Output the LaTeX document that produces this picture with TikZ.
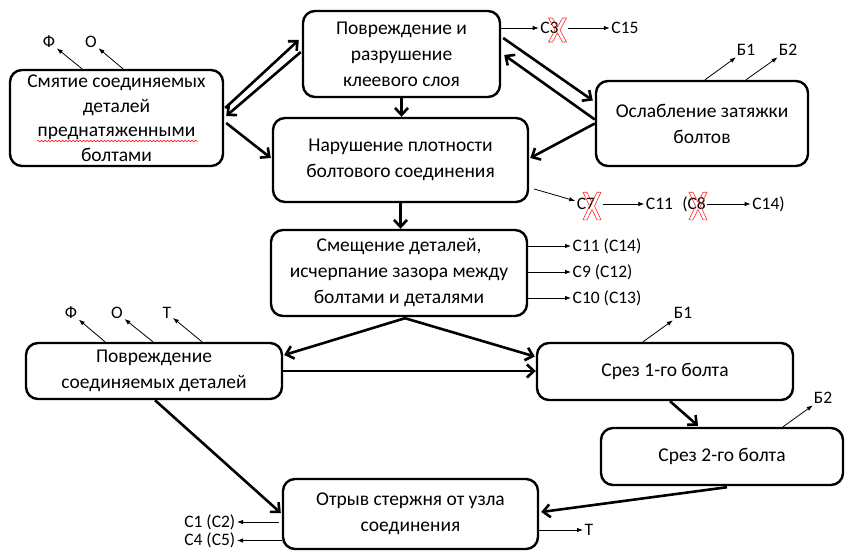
\documentclass[tikz,border=0pt]{standalone}
\usepackage{fontspec}
\setmainfont{Carlito}
\usetikzlibrary{arrows.meta,decorations.pathmorphing,calc}
\begin{document}
\begin{tikzpicture}[x=1pt,y=-1pt,
 box/.style={draw,line width=2.4pt,rounded corners=12pt,align=center,inner sep=0pt,font=\fontsize{19.5}{26}\selectfont},
 big/.style={line width=2.6pt,-{Straight Barb[length=7pt,width=13pt]}},
 sm/.style={line width=0.8pt,-{Latex[length=6pt,width=4.5pt]}},
 lab/.style={inner sep=1.5pt,font=\fontsize{17.5}{20}\selectfont},
 cross/.style={draw=red!85,line width=0.6pt},
 redx/.pic={\draw[cross] (-9,-12) -- (-5,-12) -- (0,-3) -- (5,-12) -- (9,-12) -- (2.5,0) -- (9,12) -- (5,12) -- (0,3) -- (-5,12) -- (-9,12) -- (-2.5,0) -- cycle;}
]
\useasboundingbox (0,0) rectangle (845,551);
% boxes
\node[box,minimum width=213pt,minimum height=96pt,font=\fontsize{19.5}{24.5}\selectfont] (smy) at (116.5,118) {Смятие соединяемых\\деталей\\преднатяженными\\болтами};
\node[box,minimum width=197pt,minimum height=86pt] (klei) at (401.5,54) {Повреждение и\\разрушение\\клеевого слоя};
\node[box,minimum width=212pt,minimum height=85pt] (osl) at (702,123.5) {Ослабление затяжки\\болтов};
\node[box,minimum width=255pt,minimum height=84pt] (nar) at (400.5,160) {Нарушение плотности\\болтового соединения};
\node[box,minimum width=256pt,minimum height=86pt] (sme) at (399,273) {Смещение деталей,\\исчерпание зазора между\\болтами и деталями};
\node[box,minimum width=256pt,minimum height=56pt] (pov) at (154,371) {Повреждение\\соединяемых деталей};
\node[box,minimum width=256pt,minimum height=57pt] (sr1) at (665,371.5) {Срез 1-го болта};
\node[box,minimum width=242pt,minimum height=57pt] (sr2) at (722,456.5) {Срез 2-го болта};
\node[box,minimum width=255pt,minimum height=70pt] (otr) at (410.5,514) {Отрыв стержня от узла\\соединения};
\draw[red,line width=0.5pt,decorate,decoration={snake,amplitude=0.8pt,segment length=3.5pt}] (37,141) -- (198,141);
% thick connectors
\draw[big] ([shift={(1,-10)}]smy.east) -- ([shift={(-3,-14)}]klei.west);
\draw[big] ([shift={(-1,-2)}]klei.west) -- ([shift={(2,-2)}]smy.east);
\draw[big] ([shift={(2,5)}]smy.east) -- ([shift={(-1,-2)}]nar.west);
\draw[big] (klei.south) -- (klei.south |- nar.north);
\draw[big] ([shift={(2,-16)}]klei.east) -- ([shift={(-2,-23)}]osl.west);
\draw[big] ([shift={(0,-4)}]osl.west) -- ([shift={(3,1)}]klei.east);
\draw[big] (osl.west) -- ([shift={(1,-2)}]nar.east);
\draw[big] (nar.south) -- (nar.south |- sme.north);
\draw[big] ([shift={(6,1)}]sme.south) -- ([shift={(1,-16)}]pov.east);
\draw[big] ([shift={(6,1)}]sme.south) -- ([shift={(-1,-15)}]sr1.west);
\draw[big] (pov.east) -- (sr1.west |- pov.east);
\draw[big] ([shift={(1,0)}]pov.south) -- ([shift={(-1,-1)}]otr.west);
\draw[big] ([shift={(5,0)}]sr1.south) -- ([shift={(-24,-1)}]sr2.north);
\draw[big] ([shift={(5,1)}]sr2.south) -- ([shift={(2,-2)}]otr.east);
% thin labels
\node[lab] (f1) at (49,42) {Ф};
\node[lab] (o1) at (91,42) {О};
\draw[sm] ([shift={(-34.5,0)}]smy.north) -- (f1);
\draw[sm] ([shift={(6.5,0)}]smy.north) -- (o1);
\node[lab] (c3) at (549.5,28) {С3};
\node[lab] (c15) at (625,28) {С15};
\draw[sm] (klei.east |- c3) -- (c3);
\draw[sm,shorten <=8pt] (c3) -- (c15);
\pic at (557.5,30) {redx};
\node[lab] (b1a) at (746,50) {Б1};
\node[lab] (b2a) at (788,50) {Б2};
\draw[sm] ([shift={(3,0)}]osl.north) -- (b1a);
\draw[sm] ([shift={(44,0)}]osl.north) -- (b2a);
\node[lab] (c7) at (586,204) {С7};
\draw[sm] ([shift={(5,29)}]nar.east) -- (c7);
\pic[yscale=1.15] at (592,206) {redx};
\node[lab] (c11) at (659.5,204) {С11};
\draw[sm,shorten <=6pt] (c7) -- (c11);
\node[lab] (c8) at (694,204) {(С8};
\pic[yscale=1.15] at (698,206) {redx};
\node[lab] (c14) at (768.5,204) {С14)};
\draw[sm] (c8) -- (c14);
\node[lab,anchor=west] (s1) at (571,246) {С11 (С14)};
\node[lab,anchor=west] (s2) at (571,272) {С9 (С12)};
\node[lab,anchor=west] (s3) at (571,298) {С10 (С13)};
\draw[sm] (sme.east |- s1.west) -- (s1.west);
\draw[sm] (sme.east |- s2.west) -- (s2.west);
\draw[sm] (sme.east |- s3.west) -- (s3.west);
\node[lab] (f2) at (71,313) {Ф};
\node[lab] (o2) at (117,313) {О};
\node[lab] (t2) at (167,313) {Т};
\draw[sm] ([shift={(-49,0)}]pov.north) -- (f2);
\draw[sm] ([shift={(-1,0)}]pov.north) -- (o2);
\draw[sm] ([shift={(48,0)}]pov.north) -- (t2);
\node[lab] (b1b) at (683,313) {Б1};
\draw[sm] ([shift={(-22,0)}]sr1.north) -- (b1b);
\node[lab] (b2b) at (823,398) {Б2};
\draw[sm] ([shift={(61,0)}]sr2.north) -- (b2b);
\node[lab,anchor=east] (c1) at (237,522) {С1 (С2)};
\node[lab,anchor=east] (c4) at (237,540.5) {С4 (С5)};
\draw[sm] ([shift={(-3,8)}]otr.west) -- (c1.east);
\draw[sm] ([shift={(0,26.5)}]otr.west) -- (c4.east);
\node[lab,anchor=west] (t3) at (583,530) {Т};
\draw[sm] ([shift={(0,16)}]otr.east) -- (t3.west);
\end{tikzpicture}
\end{document}
